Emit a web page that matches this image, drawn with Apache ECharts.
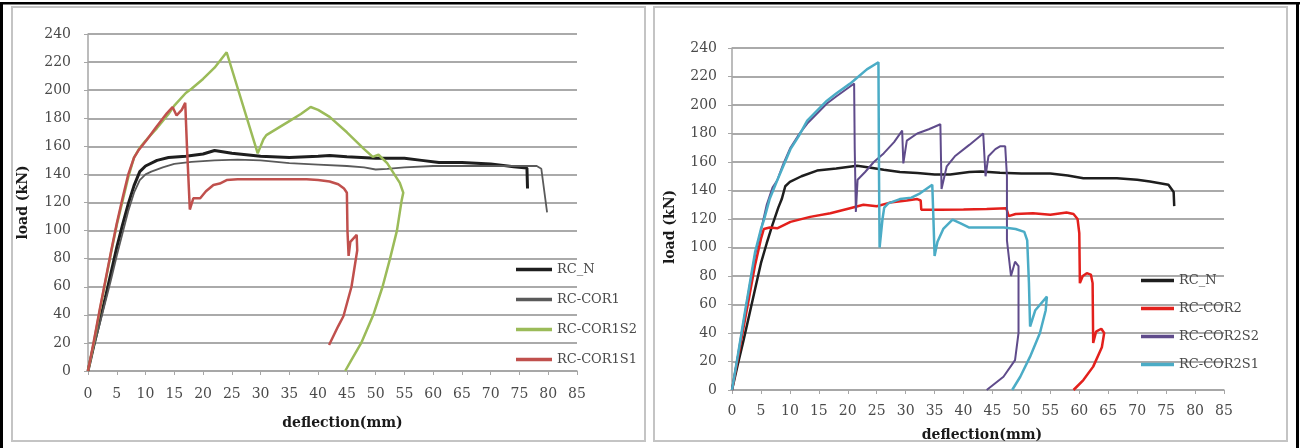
<!DOCTYPE html>
<html>
<head>
<meta charset="utf-8">
<script src="https://cdn.jsdelivr.net/npm/echarts@6/dist/echarts.min.js"></script>
<style>
html,body{margin:0;padding:0;background:#fff;}
#chart{width:1300px;height:448px;}
</style>
</head>
<body>
<div id="chart"></div>
<script>
// ---------- data (deflection mm, load kN) ----------
const xTicks = [0,5,10,15,20,25,30,35,40,45,50,55,60,65,70,75,80,85];
const yTicks = [0,20,40,60,80,100,120,140,160,180,200,220,240];

const leftNames  = ['RC_N','RC-COR1','RC-COR1S2','RC-COR1S1'];
const rightNames = ['RC_N','RC-COR2','RC-COR2S2','RC-COR2S1'];

const rcN_L = [[0,0],[1,18],[2,35],[3,52],[4,70],[5,88],[6,104],[7,119],[8,132],[9,142],[10,146],[12,150],[14,152],[17,153],[20,154.5],[22,157],[25,155],[30,153],[35,152],[40,153],[42,153.5],[45,152.5],[50,151.5],[55,151.5],[58,150],[61,148.5],[65,148.5],[70,147.5],[74,145.5],[76.3,144.5],[76.4,130]];
const rcCor1_L = [[0,0],[1,17],[2,33],[3,49],[4,65],[5,82],[6,98],[7,114],[8,127],[9,136],[10,140],[11,142],[13,145],[15,147.5],[18,149],[22,150],[26,150.5],[30,150],[35,148],[40,147],[45,146],[48,145],[50,143.5],[52,144],[55,145],[60,146],[65,146],[70,146],[75,146],[78,146],[78.8,144],[79.8,113]];
const rcCor1S2_L = [[0,0],[1,20],[2,42],[3,63],[4,84],[5,104],[6,121],[7,138],[8,152],[9,159],[10,164],[12,173],[14,183],[15,189],[17,198],[18,201],[20,208],[22,216],[24.1,227],[29.5,155],[30.5,165],[31,168],[33,173],[35,178],[37,183],[38.7,188],[40,186],[42,181],[45,170],[48,158],[49.5,152.5],[50.5,154],[52,148],[54.2,134],[54.8,127],[54.5,121],[53.7,100],[52.5,80],[51.2,60],[49.6,40],[47.5,20],[45.8,8],[44.7,0]];
const rcCor1S1_L = [[0,0],[1,21],[2,43],[3,64],[4,85],[5,105],[6,123],[7,140],[8,152],[8.75,157],[10.2,164.5],[11.9,174],[13.7,183.5],[14.7,188],[15.4,182],[16.3,186],[16.9,191],[17.2,160],[17.7,115],[18.3,123],[19.5,123],[20.5,128],[21.8,132.5],[22.9,133.5],[24.1,136],[26,136.5],[30,136.5],[35,136.5],[38,136.5],[40,136],[42,135],[43.5,133],[44.5,130],[45,127],[45.1,100],[45.3,82],[45.6,92],[46.7,97],[46.8,86],[45.8,60],[44.4,39],[43.5,32],[41.9,18.5]];

const rcN_R = [[0,0],[1,18],[2,35],[3,53],[4,71],[5,89],[6,103],[7,116],[8,128],[8.6,134],[9.2,143],[10,146],[12,150],[14.7,154],[18,155.5],[21.6,157.3],[24,156],[26.2,154.5],[29,153],[32,152.2],[35,151.2],[37.7,151.2],[41,153],[43,153.3],[46.3,152.5],[50,152],[55,152],[58,150.5],[60.7,148.6],[66.5,148.6],[70,147.5],[72.2,146.3],[75.4,144],[76.3,139],[76.4,129]];
const rcCor2_R = [[0,0],[1,22],[2,44],[3,66],[4,88],[5,106],[5.5,113],[6.5,114],[7.8,113.5],[10.1,118],[13.5,121.5],[17,124],[20.4,127.6],[22.7,130],[25,129],[27.3,131.5],[30.2,133],[32,134],[32.6,133],[32.7,126.5],[36,126.5],[40,126.7],[44,127],[47.4,127.5],[47.8,122],[49,123.5],[52,124],[55,123],[57.8,124.5],[59,123.5],[59.7,120],[60,110],[60.1,75],[60.6,80],[61.3,82],[62,81],[62.3,75],[62.4,33],[62.9,41],[63.8,43],[64.3,40],[63.9,30],[62.4,16.4],[60.7,7],[59,0]];
const rcCor2S2_R = [[0,0],[1,24],[2,48],[3,72],[4,95],[5,112],[6,130],[7,142],[7.8,147],[8.8,158],[10.1,170],[11.5,179],[13,187],[16.4,201],[18,206],[20.4,213],[21.1,215],[21.2,170],[21.4,125],[21.7,147.5],[23,153],[24.5,160],[26.2,166],[28,174],[29.4,182],[29.6,159],[30.2,175],[32,180],[34,183],[36,186.5],[36.2,141],[37.1,157],[38.5,164],[41,172],[43.4,180],[43.8,150],[44.3,164],[45.5,169],[46.3,171],[47.2,171],[47.5,150],[47.5,105],[48.2,80],[48.9,90],[49.5,87],[49.5,40],[48.9,21],[46.9,9.3],[44,0]];
const rcCor2S1_R = [[0,0],[1,24],[2,49],[3,73],[4,97],[5,113],[5.5,119],[6.5,134],[7.8,147],[10.1,169],[11.5,178],[13,189],[16.4,203],[18,208],[20.4,215],[21,217],[23.3,225],[25.3,230],[25.4,150],[25.5,100],[26,120],[26.3,128],[27,131],[29,134],[31,135],[32.5,138],[34.6,144],[34.8,120],[35,94],[35.5,104],[36.5,113],[38.1,119.5],[39.5,117],[41,114],[44,114],[47,114],[49,113],[50.5,111],[51,105],[51.3,75],[51.5,44.5],[52.4,56],[54.4,65.5],[54.2,56],[53.2,40],[51.5,23.4],[49.8,9.3],[48.4,0]];

const xAxisTitle = 'deflection(mm)';
const yAxisTitle = 'load (kN)';

// ---------- chart ----------
const tickFont = {fontFamily:'DejaVu Serif', fontSize:14, color:'#4a4a4a'};
const nameFont = {fontFamily:'DejaVu Serif', fontSize:14, fontWeight:'bold', color:'#1a1a1a'};

function xAxis(gi, margin, gap, pad){
  return {type:'value', gridIndex:gi, min:xTicks[0], max:xTicks[xTicks.length-1], interval:5,
    name:xAxisTitle, nameLocation:'middle', nameGap:gap, nameTextStyle:Object.assign({padding:pad}, nameFont),
    axisLine:{show:true, lineStyle:{color:'#a6a6a6', width:1.5}},
    axisTick:{show:true, length:4, lineStyle:{color:'#a6a6a6'}},
    axisLabel:Object.assign({margin:margin}, tickFont),
    splitLine:{show:false}};
}
function yAxis(gi, margin, gap, pad){
  return {type:'value', gridIndex:gi, min:yTicks[0], max:yTicks[yTicks.length-1], interval:20,
    name:yAxisTitle, nameLocation:'middle', nameGap:gap, nameRotate:90,
    nameTextStyle:Object.assign({padding:pad}, nameFont),
    axisLine:{show:true, lineStyle:{color:'#a6a6a6', width:1.5}},
    axisTick:{show:true, length:4, lineStyle:{color:'#a6a6a6'}},
    axisLabel:Object.assign({margin:margin}, tickFont),
    splitLine:{show:true, lineStyle:{color:'#aaaaaa', width:1.8}}};
}
function line(name, data, gi, color, width){
  return {type:'line', name:name, data:data, xAxisIndex:gi, yAxisIndex:gi,
    symbol:'none', smooth:false, lineStyle:{color:color, width:width}, itemStyle:{color:color},
    emphasis:{disabled:true}, animation:false, z:3};
}

const option = {
  backgroundColor:'#ffffff',
  animation:false,
  grid:[
    {left:88, top:34, width:489, height:337},
    {left:732, top:48, width:492, height:342}
  ],
  xAxis:[xAxis(0,16,45,[0,0,0,20]), xAxis(1,14,38,[0,0,0,8])],
  yAxis:[yAxis(0,17,58,[0,0,0,0]), yAxis(1,15,55,[0,16,0,0])],
  legend:[
    {orient:'vertical', left:511, top:258, itemWidth:36, itemHeight:3.5, itemGap:17, icon:'rect',
     data:leftNames, textStyle:{fontFamily:'DejaVu Serif', fontSize:13, color:'#4a4a4a'}, selectedMode:false},
    {orient:'vertical', left:1136, top:269, itemWidth:33, itemHeight:3.5, itemGap:15, icon:'rect',
     data:rightNames, textStyle:{fontFamily:'DejaVu Serif', fontSize:13, color:'#4a4a4a'}, selectedMode:false}
  ],
  graphic:[
    {type:'rect', shape:{x:12, y:7, width:633, height:434}, style:{fill:'none', stroke:'#c4c4c4', lineWidth:2}, silent:true},
    {type:'rect', shape:{x:654, y:7, width:633, height:434}, style:{fill:'none', stroke:'#c4c4c4', lineWidth:2}, silent:true},
    {type:'rect', shape:{x:0, y:2, width:1300, height:2.5}, style:{fill:'#000'}, silent:true},
    {type:'rect', shape:{x:0, y:2, width:3, height:446}, style:{fill:'#000'}, silent:true},
    {type:'rect', shape:{x:1296, y:2, width:3, height:446}, style:{fill:'#000'}, silent:true}
  ],
  series:[
    line(leftNames[0], rcN_L, 0, '#1e1e1e', 3),
    line(leftNames[1], rcCor1_L, 0, '#5a5a5a', 1.8),
    line(leftNames[2], rcCor1S2_L, 0, '#9bbb59', 2.5),
    line(leftNames[3], rcCor1S1_L, 0, '#c0504d', 2.5),
    line(rightNames[0], rcN_R, 1, '#1e1e1e', 2.5),
    line(rightNames[1], rcCor2_R, 1, '#e3201c', 2.5),
    line(rightNames[2], rcCor2S2_R, 1, '#5f4b8b', 2),
    line(rightNames[3], rcCor2S1_R, 1, '#4bacc6', 2.5)
  ]
};
const chart = echarts.init(document.getElementById('chart'), null, {renderer:'canvas'});
chart.setOption(option);
</script>
</body>
</html>
